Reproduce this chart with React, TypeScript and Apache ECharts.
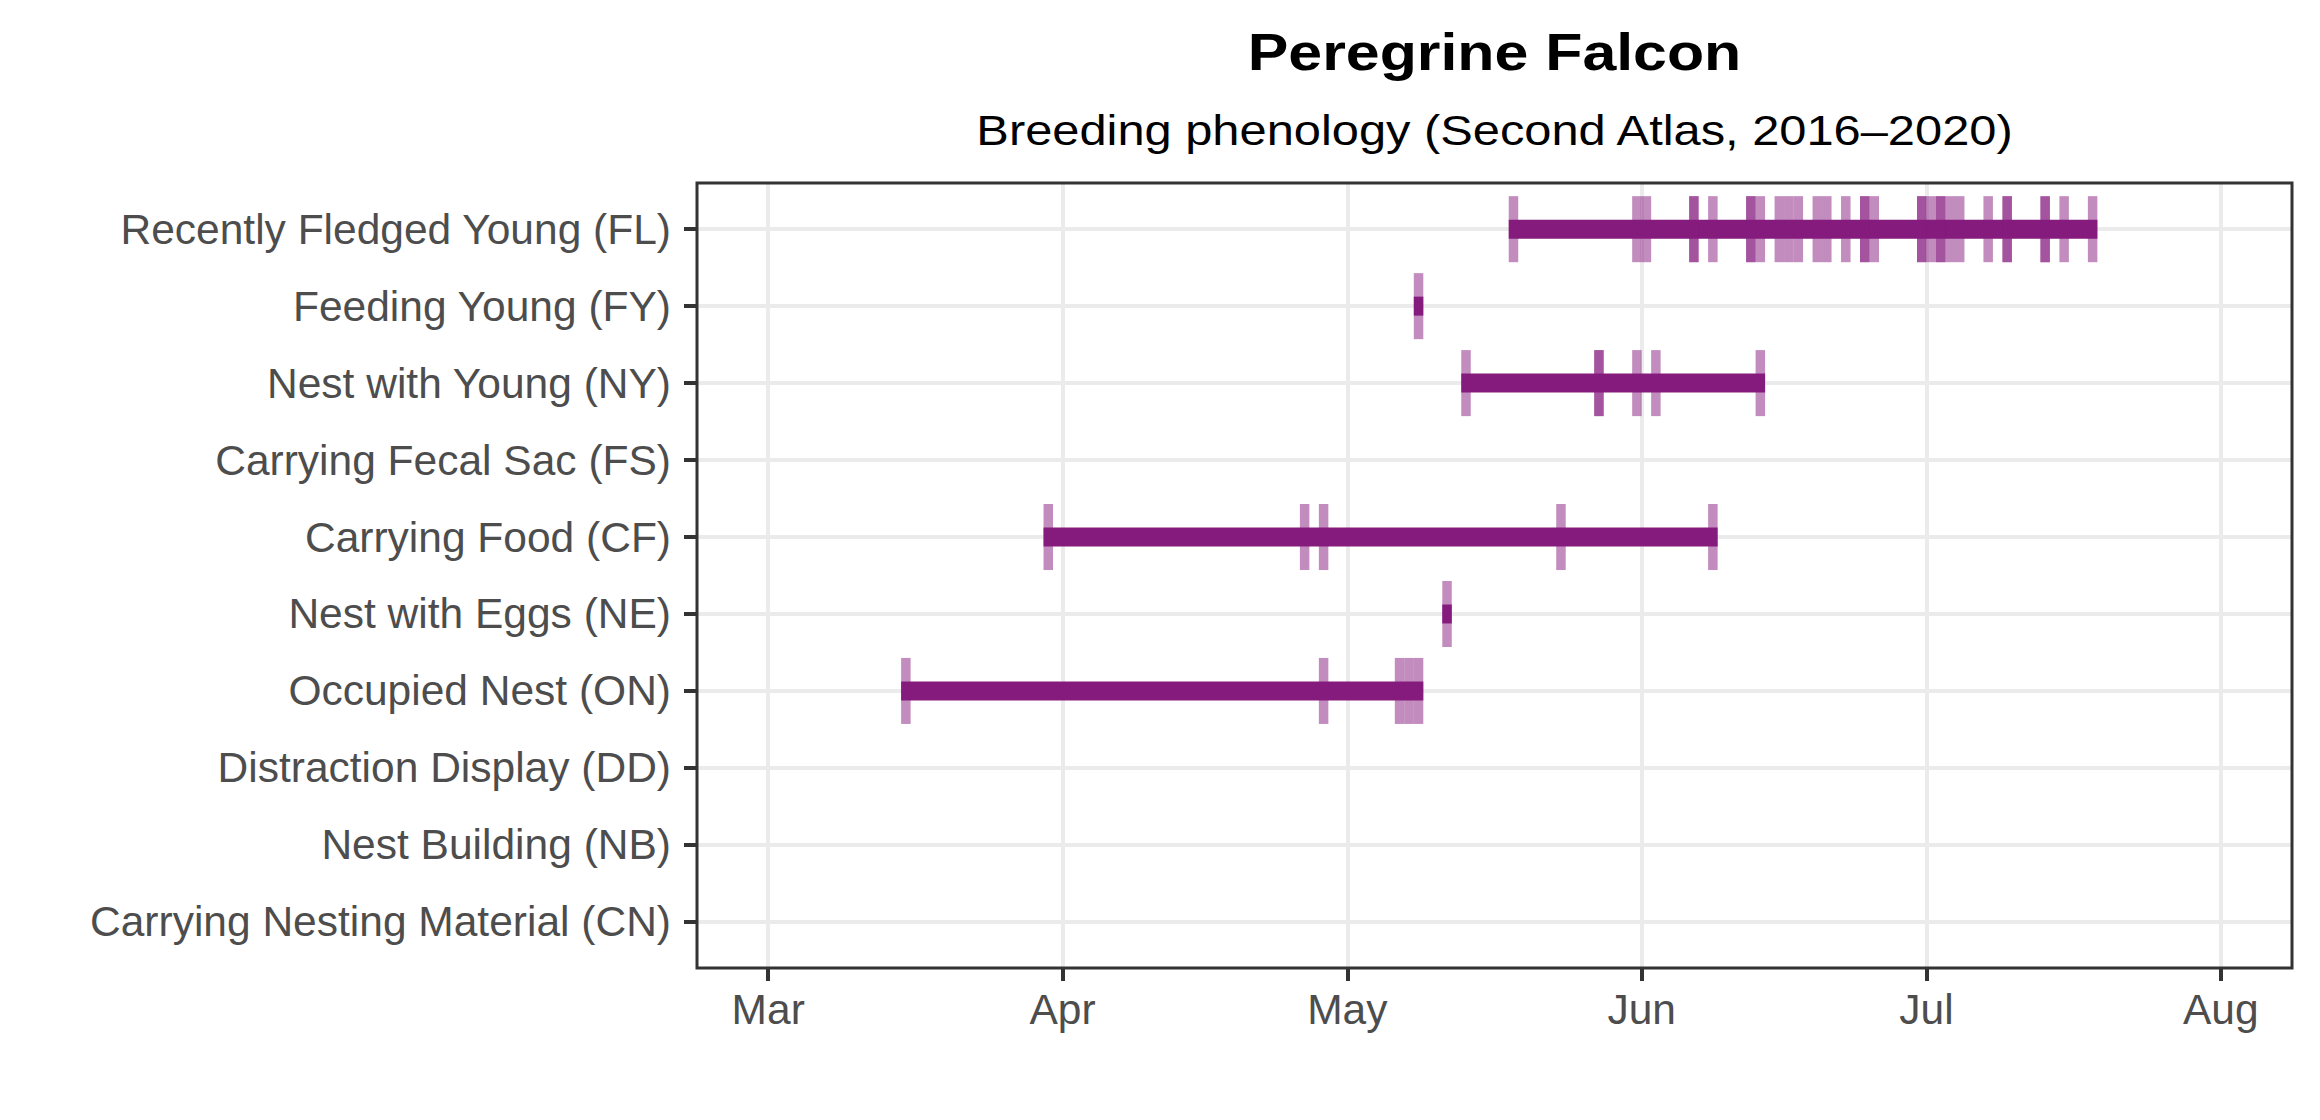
import React, { useEffect, useRef } from "react";
import * as echarts from "echarts";

// ---------- data ----------
const TITLE = "Peregrine Falcon";
const SUBTITLE = "Breeding phenology (Second Atlas, 2016–2020)";

const CATEGORIES = [
  "Recently Fledged Young (FL)",
  "Feeding Young (FY)",
  "Nest with Young (NY)",
  "Carrying Fecal Sac (FS)",
  "Carrying Food (CF)",
  "Nest with Eggs (NE)",
  "Occupied Nest (ON)",
  "Distraction Display (DD)",
  "Nest Building (NB)",
  "Carrying Nesting Material (CN)",
];

// observation dates (MM-DD); repeated dates = several records that day
const FL_DATES = [
  "05-18", "05-31", "06-01", "06-06", "06-06", "06-08", "06-12", "06-12",
  "06-13", "06-15", "06-16", "06-17", "06-19", "06-20", "06-22", "06-24",
  "06-24", "06-25", "06-30", "06-30", "07-01", "07-02", "07-02", "07-03",
  "07-04", "07-07", "07-09", "07-09", "07-13", "07-13", "07-15", "07-18",
];
const FY_DATES = ["05-08"];
const NY_DATES = ["05-13", "05-27", "05-27", "05-31", "06-02", "06-13"];
const FS_DATES: string[] = [];
const CF_DATES = ["03-30", "04-26", "04-28", "05-23", "06-08"];
const NE_DATES = ["05-11"];
const ON_DATES = ["03-15", "04-28", "05-06", "05-07", "05-08"];
const DD_DATES: string[] = [];
const NB_DATES: string[] = [];
const CN_DATES: string[] = [];

const OBSERVATIONS = [
  FL_DATES, FY_DATES, NY_DATES, FS_DATES, CF_DATES,
  NE_DATES, ON_DATES, DD_DATES, NB_DATES, CN_DATES,
];

const MONTH_STARTS = ["03-01", "04-01", "05-01", "06-01", "07-01", "08-01"];
const MONTH_LABELS = ["Mar", "Apr", "May", "Jun", "Jul", "Aug"];
const AXIS_PAD_DAYS = 7.5;

// ---------- helpers ----------
function doy(md: string): number {
  const [m, d] = md.split("-").map(Number);
  return Math.round((Date.UTC(2021, m - 1, d) - Date.UTC(2021, 0, 0)) / 86400000);
}

const PURPLE = "#851B7D";
const FONT = '"Liberation Sans", Arial, Helvetica, sans-serif';

export default function App() {
  const ref = useRef<HTMLDivElement>(null);

  useEffect(() => {
    document.body.style.margin = "0";
    document.body.style.overflow = "hidden";
    if (!ref.current) return;
    const chart = echarts.init(ref.current, undefined, { renderer: "svg" });

    const monthDays = MONTH_STARTS.map(doy);
    const labelByDay: Record<number, string> = {};
    monthDays.forEach((d, i) => (labelByDay[d] = MONTH_LABELS[i]));

    const tickData: number[][] = [];
    const barData: number[][] = [];
    OBSERVATIONS.forEach((dates, row) => {
      if (!dates.length) return;
      const days = dates.map(doy);
      days.forEach((d) => tickData.push([d, row]));
      barData.push([Math.min(...days), Math.max(...days) + 1, row]);
    });

    const rowIdx = CATEGORIES.map((_, i) => i);

    const gridL = 697, gridT = 183, gridW = 1595, gridH = 785;

    chart.setOption({
      animation: false,
      grid: { left: gridL, top: gridT, width: gridW, height: gridH, show: false },
      xAxis: {
        type: "value",
        min: monthDays[0] - AXIS_PAD_DAYS,
        max: monthDays[monthDays.length - 1] + AXIS_PAD_DAYS,
        position: "bottom",
        axisLine: { show: false, onZero: false },
        axisTick: {
          show: true,
          customValues: monthDays,
          length: 13,
          lineStyle: { color: "#333333", width: 4 },
        },
        axisLabel: {
          customValues: monthDays,
          formatter: (v: number) => labelByDay[Math.round(v)] ?? "",
          margin: 20,
          fontSize: 42.5,
          fontFamily: FONT,
          color: "#4D4D4D",
        },
        splitLine: { show: true, lineStyle: { color: "#EBEBEB", width: 4 } },
      },
      yAxis: {
        type: "value",
        inverse: true,
        min: -0.6,
        max: CATEGORIES.length - 1 + 0.6,
        position: "left",
        axisLine: { show: false, onZero: false },
        axisTick: {
          show: true,
          customValues: rowIdx,
          length: 13,
          lineStyle: { color: "#333333", width: 4 },
        },
        axisLabel: {
          customValues: rowIdx,
          formatter: (v: number) => CATEGORIES[Math.round(v)] ?? "",
          margin: 26,
          fontSize: 42.5,
          fontFamily: FONT,
          color: "#4D4D4D",
        },
        splitLine: { show: true, lineStyle: { color: "#EBEBEB", width: 4 } },
      },
      series: [
        {
          type: "custom",
          name: "range",
          clip: true,
          data: barData,
          renderItem: (params: any, api: any) => {
            const a = api.coord([api.value(0), api.value(2) - 0.1234]);
            const b = api.coord([api.value(1), api.value(2) + 0.1234]);
            return {
              type: "rect",
              shape: {
                x: Math.min(a[0], b[0]),
                y: Math.min(a[1], b[1]),
                width: Math.abs(b[0] - a[0]),
                height: Math.abs(b[1] - a[1]),
              },
              style: { fill: PURPLE },
            };
          },
          z: 2,
        },
        {
          type: "custom",
          name: "records",
          clip: true,
          data: tickData,
          renderItem: (params: any, api: any) => {
            const a = api.coord([api.value(0), api.value(1) - 0.429]);
            const b = api.coord([api.value(0) + 1, api.value(1) + 0.429]);
            return {
              type: "rect",
              shape: {
                x: Math.min(a[0], b[0]),
                y: Math.min(a[1], b[1]),
                width: Math.abs(b[0] - a[0]),
                height: Math.abs(b[1] - a[1]),
              },
              style: { fill: PURPLE, opacity: 0.5 },
            };
          },
          z: 3,
        },
      ],
      graphic: [
        {
          type: "rect",
          z: 100,
          silent: true,
          shape: { x: gridL, y: gridT, width: gridW, height: gridH },
          style: { fill: "none", stroke: "#333333", lineWidth: 3 },
        },
        {
          type: "text",
          z: 100,
          x: gridL + gridW / 2,
          y: 52,
          scaleX: 1.17,
          style: {
            text: TITLE,
            fill: "#000000",
            font: `bold 52px ${FONT}`,
            align: "center",
            textAlign: "center",
            verticalAlign: "middle",
            textVerticalAlign: "middle",
          },
        },
        {
          type: "text",
          z: 100,
          x: gridL + gridW / 2,
          y: 130,
          scaleX: 1.135,
          style: {
            text: SUBTITLE,
            fill: "#000000",
            font: `43px ${FONT}`,
            align: "center",
            textAlign: "center",
            verticalAlign: "middle",
            textVerticalAlign: "middle",
          },
        },
      ],
    });

    return () => chart.dispose();
  }, []);

  return <div ref={ref} style={{ width: 2320, height: 1120 }} />;
}
